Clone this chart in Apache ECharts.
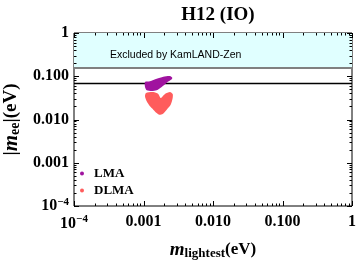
<!DOCTYPE html>
<html><head><meta charset="utf-8">
<script src="https://cdn.jsdelivr.net/npm/echarts@6/dist/echarts.min.js"></script>
<style>html,body{margin:0;padding:0;background:#fff}#c{width:360px;height:263px}</style>
</head><body><div id="c"></div>
<script>
// ---- data ----
const chartTitle = 'H12 (IO)';
const xTickValues = [1e-4, 1e-3, 1e-2, 1e-1, 1];
const xTickLabels = ['{b|10}{sup|−4}', '0.001', '0.010', '0.100', '1'];
const yTickValues = [1e-4, 1e-3, 1e-2, 1e-1, 1];
const yTickLabels = ['{b|10}{sup|−4}', '0.001', '0.010', '0.100', '1'];
const kamlandLimit = 0.16;       // upper bound (eV), excluded above
const referenceLine = 0.069;     // black horizontal line (eV)
const excludedText = 'Excluded by KamLAND-Zen';
const seriesNames = ['LMA', 'DLMA'];
// outlines of the allowed regions (m_lightest, |m_ee|) in eV
const lmaRegion = [
  [0.001051, 0.0736], [0.00124, 0.0764], [0.001549, 0.0878], [0.001928, 0.0976],
  [0.002404, 0.1014], [0.002594, 0.0926], [0.002548, 0.0850], [0.002158, 0.0709],
  [0.001829, 0.0564], [0.001549, 0.0473], [0.001312, 0.0456], [0.001112, 0.0473],
  [0.001051, 0.0564]
];
const dlmaRegion = [
  [0.001051, 0.0344], [0.001087, 0.0410], [0.001384, 0.0432], [0.001633, 0.0389],
  [0.001768, 0.0314], [0.002037, 0.0389], [0.002404, 0.0432], [0.00263, 0.0389],
  [0.00263, 0.0314], [0.002459, 0.0220], [0.002158, 0.0169], [0.001888, 0.0134],
  [0.001686, 0.0129], [0.001549, 0.0141], [0.001384, 0.0169], [0.00124, 0.0202],
  [0.001112, 0.0263]
];
const colors = { LMA: '#a0139f', DLMA: '#ff5c5c' };

// ---- helpers ----
const decadeMinors = [];
for (let k = -4; k < 0; k++) for (let m = 2; m <= 9; m++) decadeMinors.push(m * Math.pow(10, k));

function labelFor(values, labels) {
  return function (v) {
    const e = Math.round(Math.log10(v));
    for (let i = 0; i < values.length; i++) if (Math.round(Math.log10(values[i])) === e) return labels[i];
    return '';
  };
}
const serif = 'Liberation Serif';
const labelRich = {
  b: { fontFamily: serif, fontWeight: 'bold', fontSize: 16, color: '#000' },
  sup: { fontFamily: serif, fontWeight: 'bold', fontSize: 11, color: '#000', padding: [0, 0, 8, 0] }
};

function regionSeries(name, outline) {
  return {
    type: 'custom', name: name, coordinateSystem: 'cartesian2d',
    itemStyle: { color: colors[name] },
    data: [outline[0]],
    renderItem: function (params, api) {
      return {
        type: 'polygon',
        shape: { points: outline.map(p => api.coord(p)), smooth: 0.25 },
        style: { fill: colors[name] }
      };
    },
    z: 5
  };
}

function renderTicks(params, api) {
  const cs = params.coordSys;
  const L = cs.x, R = cs.x + cs.width, T = cs.y, B = cs.y + cs.height;
  const ch = [];
  const add = (x1, y1, x2, y2) => ch.push({ type: 'line', shape: { x1, y1, x2, y2 }, style: { stroke: '#000', lineWidth: 1 } });
  xTickValues.forEach(v => { const x = Math.round(api.coord([v, 0.01])[0]) + 0.5; add(x, B, x, B - 5); add(x, T, x, T + 5); });
  decadeMinors.forEach(v => { const x = Math.round(api.coord([v, 0.01])[0]) + 0.5; add(x, B, x, B - 2.5); add(x, T, x, T + 2.5); });
  yTickValues.forEach(v => { const y = Math.round(api.coord([0.01, v])[1]) + 0.5; add(L, y, L + 5, y); add(R, y, R - 5, y); });
  decadeMinors.forEach(v => { const y = Math.round(api.coord([0.01, v])[1]) + 0.5; add(L, y, L + 2.5, y); add(R, y, R - 2.5, y); });
  return { type: 'group', children: ch };
}

const nameRich = {
  mi: { fontFamily: serif, fontStyle: 'italic', fontWeight: 'bold', fontSize: 21, color: '#000' },
  sub: { fontFamily: serif, fontWeight: 'bold', fontSize: 14, color: '#000', padding: [8, 0, 0, 0] },
  n: { fontFamily: serif, fontWeight: 'bold', fontSize: 19, color: '#000' }
};
const xNameRich = {
  mi: { fontFamily: serif, fontStyle: 'italic', fontWeight: 'bold', fontSize: 19, color: '#000' },
  sub: { fontFamily: serif, fontWeight: 'bold', fontSize: 13, color: '#000', padding: [7, 0, 0, 0] },
  n: { fontFamily: serif, fontWeight: 'bold', fontSize: 17, color: '#000' }
};

const chart = echarts.init(document.getElementById('c'), null, { renderer: 'canvas' });
chart.setOption({
  animation: false,
  backgroundColor: '#fff',
  title: {
    text: chartTitle, left: 213, top: 1, textAlign: 'center',
    textStyle: { fontFamily: serif, fontWeight: 'bold', fontSize: 19, color: '#000' }
  },
  grid: { left: 74, right: 8, top: 33, bottom: 57, show: true, borderColor: '#000', borderWidth: 1,
    backgroundColor: 'transparent', containLabel: false, outerBoundsMode: 'none' },
  legend: {
    orient: 'vertical', left: 75, top: 162, itemGap: 4, itemWidth: 4, itemHeight: 4,
    data: seriesNames.map(n => ({ name: n, icon: 'circle' })),
    textStyle: { fontFamily: serif, fontWeight: 'bold', fontSize: 13, color: '#000', padding: [0, 0, 0, 5] },
    selectedMode: false
  },
  xAxis: {
    type: 'log', logBase: 10, min: 1e-4, max: 1,
    axisLine: { show: false }, axisTick: { show: false }, splitLine: { show: false }, minorTick: { show: false },
    axisLabel: { formatter: labelFor(xTickValues, xTickLabels), margin: 8, rich: labelRich,
      fontFamily: serif, fontWeight: 'bold', fontSize: 16, color: '#000', showMinLabel: true, showMaxLabel: true },
    name: '{mi|m}{sub|lightest}{n|(eV)}', nameLocation: 'middle', nameGap: 34,
    nameTextStyle: { rich: xNameRich }
  },
  yAxis: {
    type: 'log', logBase: 10, min: 1e-4, max: 1,
    axisLine: { show: false }, axisTick: { show: false }, splitLine: { show: false }, minorTick: { show: false },
    axisLabel: { formatter: labelFor(yTickValues, yTickLabels), margin: 5, rich: labelRich,
      fontFamily: serif, fontWeight: 'bold', fontSize: 16, color: '#000', showMinLabel: true, showMaxLabel: true },
    name: '{n||}{mi|m}{sub|ee}{n||(eV)}', nameLocation: 'middle', nameGap: 50, nameRotate: 90,
    nameTextStyle: { rich: nameRich }
  },
  series: [
    {
      type: 'line', name: 'bands', data: [], silent: true,
      markArea: {
        silent: true,
        itemStyle: { color: '#e0ffff' },
        label: { show: true, position: 'insideLeft', distance: 36, offset: [0, 5],
          formatter: excludedText, fontFamily: 'Liberation Sans', fontSize: 10.5, color: '#000' },
        data: [[{ yAxis: kamlandLimit }, { yAxis: 1 }]]
      },
      markLine: {
        silent: true, symbol: 'none', label: { show: false },
        data: [
          { yAxis: kamlandLimit, lineStyle: { color: '#808080', width: 2.2, type: 'solid' } },
          { yAxis: referenceLine, lineStyle: { color: '#000', width: 1.3, type: 'solid' } }
        ]
      }
    },
    regionSeries(seriesNames[0], lmaRegion),
    regionSeries(seriesNames[1], dlmaRegion),
    { type: 'custom', name: 'ticks', data: [[0.01, 0.01]], renderItem: renderTicks, silent: true, z: 10 }
  ]
});
</script></body></html>
